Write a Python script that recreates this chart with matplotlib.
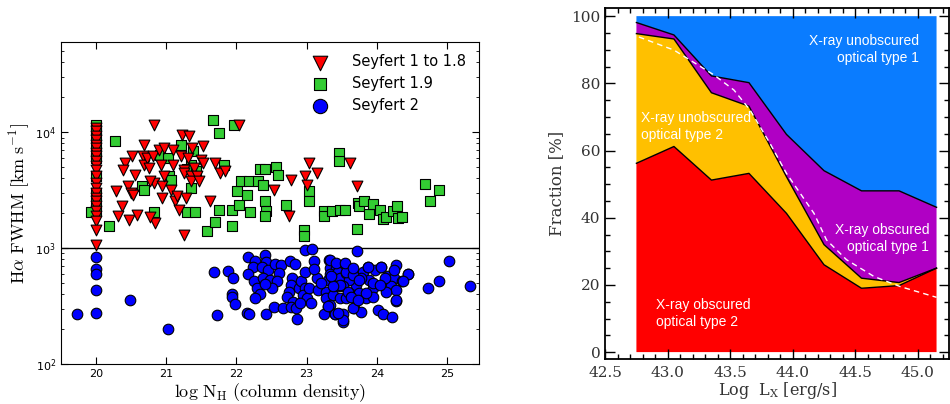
import numpy as np
import matplotlib.pyplot as plt
from matplotlib.ticker import MultipleLocator, LogLocator, NullFormatter, FormatStrFormatter

# ---------------- left panel: H-alpha FWHM vs log N_H ----------------
nh_floor = 20.0  # upper limits piled up at log N_H = 20

# Seyfert 1 to 1.8
sy1_col_logfwhm = [4.038, 4.009, 3.965, 3.937, 3.893, 3.865, 3.821, 3.793, 3.749, 3.706, 3.677, 3.620,
                   3.562, 3.519, 3.476, 3.432, 3.403, 3.360, 3.317, 3.274, 3.231, 3.159, 3.029]
sy1_lognh = [20.83, 20.68, 20.51, 20.41, 20.39, 20.56, 20.46, 20.50, 20.53, 20.28, 20.37, 20.32, 20.47,
             20.59, 20.67, 20.68, 20.73, 20.75, 20.81, 20.83, 20.84, 20.77, 20.77, 20.90, 20.97, 20.93,
             20.94, 20.94, 20.97, 21.07, 21.10, 21.10, 21.12, 21.15, 21.18, 21.21, 21.23, 21.25, 21.26,
             21.28, 21.26, 21.31, 21.33, 21.35, 21.36, 21.37, 21.40, 21.44, 21.47, 21.49, 21.52, 21.53,
             21.62, 21.70, 21.76, 21.84, 22.03, 22.53, 22.75, 22.77, 22.98, 23.00, 23.03, 23.15, 23.62, 23.72]
sy1_logfwhm = [4.066, 3.893, 3.793, 3.735, 3.677, 3.628, 3.533, 3.476, 3.461, 3.490, 3.366, 3.274, 3.245,
               3.288, 3.793, 3.721, 3.778, 3.692, 3.793, 3.562, 3.216, 3.265, 3.576, 3.850, 3.865, 3.721,
               3.533, 3.432, 3.620, 3.504, 3.850, 3.721, 3.403, 3.447, 3.331, 3.793, 3.980, 3.677, 3.648,
               3.432, 3.115, 3.778, 3.965, 3.620, 3.576, 3.865, 3.692, 3.620, 3.576, 3.764, 3.879, 3.735,
               3.403, 3.735, 3.648, 3.663, 4.066, 3.504, 3.274, 3.591, 3.620, 3.548, 3.735, 3.648, 3.735, 3.533]

# Seyfert 1.9
sy19_col_logfwhm = [4.066, 4.023, 3.965, 3.893, 3.821, 3.778, 3.620, 3.476, 3.389, 3.317]
sy19_lognh = [20.27, 21.67, 21.75, 21.96, 21.21, 20.91, 21.38, 21.36, 21.29, 21.42, 21.02, 20.65, 20.68,
              21.04, 21.07, 20.83, 21.29, 21.41, 21.36, 20.19, 21.58, 21.70, 21.75, 21.94, 21.94, 21.82,
              22.04, 22.01, 22.07, 22.15, 22.19, 22.18, 22.30, 22.33, 22.40, 22.38, 22.56, 22.59, 22.41,
              22.42, 22.41, 22.70, 23.03, 23.04, 22.96, 22.96, 23.25, 23.25, 23.36, 23.48, 23.54, 23.46,
              23.46, 23.73, 23.75, 23.71, 23.82, 23.89, 23.95, 24.04, 24.08, 24.13, 24.23, 24.28, 24.30,
              24.35, 24.69, 24.75, 24.89, 19.93]
sy19_logfwhm = [3.922, 4.101, 3.994, 4.066, 3.893, 3.807, 3.836, 3.721, 3.683, 3.663, 3.778, 3.533, 3.504,
                3.620, 3.591, 3.308, 3.308, 3.308, 3.519, 3.193, 3.144, 3.222, 3.326, 3.326, 3.187, 3.721,
                3.375, 3.490, 3.576, 3.461, 3.308, 3.576, 3.576, 3.683, 3.683, 3.548, 3.697, 3.628, 3.403,
                3.317, 3.274, 3.375, 3.490, 3.403, 3.159, 3.107, 3.317, 3.274, 3.317, 3.331, 3.331, 3.821,
                3.749, 3.389, 3.366, 3.164, 3.403, 3.297, 3.383, 3.331, 3.251, 3.268, 3.317, 3.366, 3.259,
                3.268, 3.550, 3.403, 3.504, 3.308]

# Seyfert 2
sy2_lognh = [20.00, 20.00, 20.00, 20.00, 20.00, 19.73, 20.48, 21.02,
             21.68, 21.88, 21.95, 21.93, 21.94, 21.98, 21.73, 22.15, 22.18, 22.42, 22.53, 22.66, 22.86,
             22.16, 22.27, 22.41, 22.42, 22.23, 22.36, 22.45, 22.55, 22.64, 22.60, 22.17, 22.25, 22.38,
             22.48, 22.58, 22.29, 22.34, 22.27, 22.50, 22.41, 22.76, 22.84, 22.79, 22.78, 22.75, 22.72,
             22.80, 22.77, 22.85, 22.89, 22.92, 22.98, 22.98, 22.95, 23.00, 23.04, 23.11, 23.14, 23.16,
             23.10, 22.97, 23.07, 23.32, 23.33, 23.30, 23.28, 23.27, 23.30, 23.25, 23.41, 23.21, 23.06, 22.90,
             23.71, 23.33, 23.54, 23.42, 23.33, 23.44, 23.37, 23.47, 23.56, 23.66, 23.80, 23.87, 23.97,
             24.06, 24.27, 24.44, 24.16, 24.25, 24.36, 24.08, 24.20, 24.27, 24.13, 24.27, 23.94, 23.89,
             23.78, 23.70, 23.60, 23.52, 23.44, 23.37, 23.47, 23.56, 23.65, 23.75, 23.85, 23.94, 23.33,
             23.67, 23.78, 24.01, 24.08, 24.22, 23.41, 23.52, 23.52, 24.73, 24.88, 25.03, 25.33,
             23.87, 24.06, 23.56, 23.66, 23.75, 23.94, 24.11, 24.25, 24.44, 24.37, 24.04, 23.85, 24.27,
             23.66, 23.52, 23.44, 23.30, 23.59, 23.63, 23.73, 23.47, 23.37, 23.35, 23.42, 23.55, 23.66]
sy2_logfwhm = [2.925, 2.821, 2.775, 2.640, 2.444, 2.429, 2.550, 2.305,
               2.790, 2.800, 2.743, 2.602, 2.582, 2.516, 2.426, 2.438, 2.429, 2.429, 2.493, 2.484, 2.389,
               2.919, 2.890, 2.937, 2.879, 2.833, 2.833, 2.813, 2.862, 2.856, 2.787, 2.775, 2.720, 2.741,
               2.726, 2.712, 2.660, 2.608, 2.573, 2.654, 2.689, 2.885, 2.862, 2.741, 2.683, 2.625, 2.582,
               2.539, 2.496, 2.481, 2.660, 2.712, 2.798, 2.660, 2.597, 2.568, 2.654, 2.885, 2.741, 2.640,
               2.821, 2.986, 2.988, 2.899, 2.827, 2.726, 2.625, 2.568, 2.496, 2.429, 2.429, 2.697, 2.524, 2.524,
               2.971, 2.899, 2.862, 2.827, 2.775, 2.798, 2.741, 2.741, 2.784, 2.775, 2.798, 2.833, 2.813,
               2.833, 2.850, 2.775, 2.755, 2.741, 2.712, 2.683, 2.677, 2.640, 2.625, 2.545, 2.654, 2.726,
               2.741, 2.683, 2.726, 2.669, 2.669, 2.597, 2.568, 2.568, 2.591, 2.611, 2.568, 2.582, 2.510,
               2.481, 2.447, 2.467, 2.429, 2.403, 2.432, 2.429, 2.366, 2.654, 2.712, 2.885, 2.669,
               2.836, 2.836, 2.798, 2.769, 2.726, 2.697, 2.741, 2.813, 2.778, 2.712, 2.683, 2.611, 2.553,
               2.481, 2.380, 2.438, 2.501, 2.625, 2.582, 2.553, 2.683, 2.669, 2.755, 2.870, 2.870, 2.827]

# ---------------- right panel: fractions vs log L_X ----------------
log_lx = [42.75, 43.05, 43.35, 43.65, 43.95, 44.25, 44.55, 44.85, 45.15]
frac_xobs_opt2 = [56.2, 61.2, 51.2, 53.2, 41.3, 26.0, 19.0, 19.8, 25.0]
frac_xunobs_opt2 = [38.6, 32.0, 26.0, 20.0, 10.9, 6.0, 3.0, 0.9, 0.0]
frac_xobs_opt1 = [3.3, 1.2, 5.0, 7.0, 12.6, 22.0, 26.0, 27.3, 18.1]
frac_xunobs_opt1 = [1.9, 5.6, 17.8, 19.8, 35.2, 46.0, 52.0, 52.0, 56.9]

model_lx = [42.77, 43.05, 43.37, 43.53, 43.66, 43.82, 43.95, 44.17, 44.27, 44.43, 44.65, 44.86, 45.15]
model_frac = [93.8, 89.9, 82.5, 78.0, 72.0, 62.0, 53.2, 41.3, 33.4, 27.5, 22.5, 19.5, 16.3]

fig = plt.figure(figsize=(9.5, 4.04), dpi=100)

# ---- left ----
ax = fig.add_axes([0.064, 0.099, 0.44, 0.797])
mk = dict(edgecolors='black', linewidths=0.8)
h19 = ax.scatter(np.r_[np.full(len(sy19_col_logfwhm), nh_floor), sy19_lognh],
                 10 ** np.r_[sy19_col_logfwhm, sy19_logfwhm], marker='s', s=46, c='#33cc33', **mk, zorder=3)
h1 = ax.scatter(np.r_[np.full(len(sy1_col_logfwhm), nh_floor), sy1_lognh],
                10 ** np.r_[sy1_col_logfwhm, sy1_logfwhm], marker='v', s=60, c='red', **mk, zorder=4)
h2 = ax.scatter(sy2_lognh, 10 ** np.array(sy2_logfwhm), marker='o', s=58, c='blue', **mk, zorder=5)
ax.axhline(1000, color='black', lw=1.0, zorder=2)

ax.set_yscale('log')
ax.set_xlim(19.5, 25.45)
ax.set_ylim(100, 6e4)
ax.xaxis.set_major_locator(MultipleLocator(1))
ax.yaxis.set_major_locator(LogLocator(base=10, numticks=10))
ax.tick_params(which='both', direction='in', top=True, right=True, labelsize=8)
ax.tick_params(which='major', length=5)
ax.tick_params(which='minor', length=2.5)
ax.set_xlabel(r'$\mathrm{log\ N_H\ (column\ density)}$', fontsize=13, math_fontfamily='cm', labelpad=2)
ax.set_ylabel(r'$\mathrm{H\alpha\ FWHM\ [km\ s^{-1}]}$', fontsize=13, math_fontfamily='cm', labelpad=2)
ax.legend(handles=[h1, h19, h2], labels=['Seyfert 1 to 1.8', 'Seyfert 1.9', 'Seyfert 2'],
          loc='upper right', frameon=False, fontsize=10.5, markerscale=1.35,
          handletextpad=1.2, labelspacing=0.45, borderaxespad=0.45)

# ---- right ----
axr = fig.add_axes([0.637, 0.111, 0.362, 0.869])
cols = ['#ff0000', '#ffc000', '#b000c4', '#0a7cff']
axr.stackplot(log_lx, frac_xobs_opt2, frac_xunobs_opt2, frac_xobs_opt1, frac_xunobs_opt1,
              colors=cols, linewidth=0)
cum = np.cumsum([frac_xobs_opt2, frac_xunobs_opt2, frac_xobs_opt1], axis=0)
for row in cum:
    axr.plot(log_lx, row, color='black', lw=1.0)
axr.plot(model_lx, model_frac, color='white', lw=1.0, ls=(0, (4, 3)))

axr.set_xlim(42.5, 45.25)
axr.set_ylim(-2.1, 102.4)
axr.xaxis.set_major_locator(MultipleLocator(0.5))
axr.xaxis.set_minor_locator(MultipleLocator(0.1))
axr.xaxis.set_major_formatter(FormatStrFormatter('%.1f'))
axr.yaxis.set_major_locator(MultipleLocator(20))
axr.yaxis.set_minor_locator(MultipleLocator(5))
axr.tick_params(which='both', direction='in', top=True, right=True, labelsize=11,
                labelcolor='#333333', width=1.0)
axr.tick_params(which='major', length=7)
axr.tick_params(which='minor', length=3.5)
axr.tick_params(axis='x', pad=5)
for lab in axr.get_xticklabels() + axr.get_yticklabels():
    lab.set_family('DejaVu Serif')
for sp in axr.spines.values():
    sp.set_linewidth(1.3)
axr.set_xlabel(r'Log  L$_\mathrm{X}$ [erg/s]', fontsize=11.5, family='DejaVu Serif',
               math_fontfamily='dejavuserif', color='#333333', labelpad=0)
axr.set_ylabel('Fraction [%]', fontsize=12, family='DejaVu Serif', color='#333333', labelpad=4)

tk = dict(color='white', fontsize=10, family='Liberation Sans', linespacing=1.25)
axr.text(45.01, 90.0, 'X-ray unobscured\noptical type 1', ha='right', va='center', multialignment='right', **tk)
axr.text(42.79, 67.2, 'X-ray unobscured\noptical type 2', ha='left', va='center', **tk)
axr.text(45.09, 33.9, 'X-ray obscured\noptical type 1', ha='right', va='center', multialignment='right', **tk)
axr.text(42.91, 11.6, 'X-ray obscured\noptical type 2', ha='left', va='center', **tk)

fig.savefig('out.png', dpi=100)
